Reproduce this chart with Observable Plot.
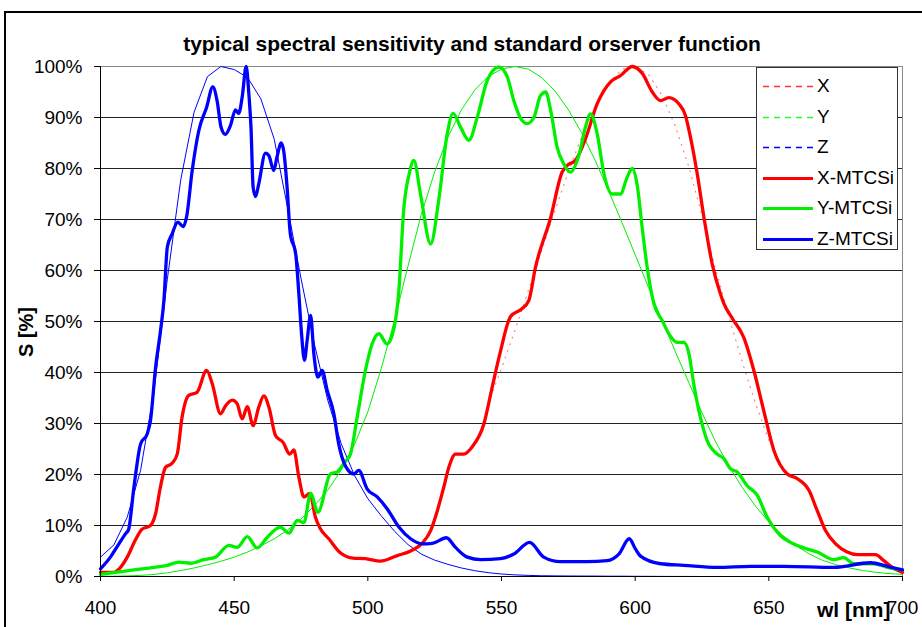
<!DOCTYPE html>
<html><head><meta charset="utf-8">
<script src="https://cdn.jsdelivr.net/npm/d3@7"></script>
<script src="https://cdn.jsdelivr.net/npm/@observablehq/plot@0.6"></script>
<style>
body{margin:0;background:#fff;overflow:hidden;width:922px;height:627px;font-family:"Liberation Sans",Arial,sans-serif;position:relative}
#frame{position:absolute;left:4px;top:11px;width:1000px;height:1000px;border:2px solid #000;box-sizing:border-box}
#chart{position:absolute;left:0;top:0}
#legend{position:absolute;left:756px;top:67px;width:142px;height:183px;border:1px solid #333;background:#fff;box-sizing:border-box}
.item{position:absolute;left:0;height:20px;width:140px}
.item svg{position:absolute;left:5px;top:0}
.item span{position:absolute;left:60px;top:0;font-size:19px;line-height:20px;color:#000}
.txt{position:absolute;white-space:nowrap;color:#000;font-weight:bold;line-height:1}
</style></head><body>
<div id="frame"></div>
<div id="chart"></div>
<div id="legend"></div>
<div class="txt" id="title" style="left:472px;top:33px;font-size:21px;transform:translateX(-50%)">typical spectral sensitivity and standard orserver function</div>
<div class="txt" id="ylab" style="left:26px;top:332px;font-size:20px;transform:translate(-50%,-50%) rotate(-90deg)">S [%]</div>
<div class="txt" id="xlab" style="left:817px;top:599px;font-size:21px">wl [nm]</div>
<script>
// ---- data ----
const xTicks = [400, 450, 500, 550, 600, 650, 700];
const yTicks = [0, 10, 20, 30, 40, 50, 60, 70, 80, 90, 100];
const seriesNames = ["X", "Y", "Z", "X-MTCSi", "Y-MTCSi", "Z-MTCSi"];

// standard observer (5 nm steps), normalised to 100 %
const stdWl = [400,405,410,415,420,425,430,435,440,445,450,455,460,465,470,475,480,485,490,495,500,505,510,515,520,525,530,535,540,545,550,555,560,565,570,575,580,585,590,595,600,605,610,615,620,625,630,635,640,645,650,655,660,665,670,675,680,685,690,695,700];
const stdY = [0.04,0.06,0.12,0.22,0.4,0.73,1.16,1.68,2.3,2.98,3.8,4.8,6.0,7.39,9.1,11.26,13.9,16.93,20.8,25.86,32.3,40.73,50.3,60.82,71.0,79.32,86.2,91.49,95.4,98.03,99.5,100,99.5,97.86,95.2,91.54,87.0,81.63,75.7,69.49,63.1,56.68,50.3,44.12,38.1,32.1,26.5,21.7,17.5,13.82,10.7,8.16,6.1,4.46,3.2,2.32,1.7,1.19,0.82,0.57,0.41];
const stdZ = [3.81,6.18,11.63,20.83,36.22,58.29,77.73,91.04,98.01,100,99.41,97.84,93.64,85.72,72.23,58.45,45.6,34.57,26.1,19.82,15.26,11.91,8.87,6.27,4.39,3.21,2.37,1.67,1.14,0.75,0.49,0.32,0.22,0.15,0.12,0.1,0.09,0.08,0.06,0.06,0.04,0.03,0.02,0.01,0.01,0,0,0,0,0,0,0,0,0,0,0,0,0,0,0,0];
// X standard: only the faintly visible part of the curve (545–650 nm)
const stdXWl = [545,550,555,560,565,570,575,580,585,590,595,600,605,610,615,620,625,630,635,640,645,650];
const stdX = [33.86,40.81,48.21,55.97,63.87,71.75,79.32,86.26,92.13,96.62,99.48,100,98.44,94.39,88.34,80.44,70.74,60.48,51.02,42.17,33.97,26.69];

// measured MTCSi sensitivities
const xmWl = [400,405,407,410,413,415.6,418.7,420.6,422.4,424.3,426.8,428.7,430.5,433,436.1,439.7,441.8,444.9,446.8,449.3,451.1,453,454.9,457.1,459.2,461.1,463,465.5,468.3,470.8,472.3,474.2,476.1,478.3,480.4,482.3,485.4,489.8,494.5,499,504.7,511,516,520.3,523.5,526,528.4,530.3,532.8,535.9,539,543.4,546.5,549.4,553.4,557.4,560.2,562.7,568.4,572.7,574.6,577.7,581.4,585.8,590.8,594.5,598.9,602.6,606.4,609.5,612.6,616.3,618.8,620.7,623.2,625.7,628.8,631.9,633.2,636.6,640.6,644.4,648.1,651.9,656.9,660.6,665,668.1,671.2,675,679.3,683.1,689.9,693,696.2,700];
const xmVal = [0.8,0.8,1.5,3.8,7.1,9.3,10,12.3,17.5,21.4,22.2,24,31.2,35.5,36.1,40.4,37.8,31.9,33.5,34.6,33.9,30.9,33.3,29.6,33.2,35.4,33.2,27.6,26.3,24,24.8,19.5,15.6,16.3,11.6,9.3,7.4,4.6,3.6,3.5,3.0,4.1,5.0,6.5,9,12.9,17.5,21.4,24,24,25.4,29.9,37.1,43.7,51,52.4,54.1,60.6,70.4,79.3,80.6,81.6,85.8,92.7,97,98.2,100,98.7,95,93.3,93.9,92.7,90.4,86.1,79,70.5,61.3,55.4,53.5,50.4,46.9,40.4,32.5,24.7,20.1,19.2,16.9,12.9,9,6.4,4.8,4.3,4.3,3.1,1.8,0.8];

const ymWl = [400,405.6,412.5,420,425,429.3,433.7,438.6,443,448,451.1,454.9,458.6,462.4,467.3,470.5,473.6,476.1,478.6,481.3,486,488.5,491.5,493.5,496,499.1,501.6,504.1,507.2,509.7,511.6,513.4,515.5,517.2,519.7,523.5,526.5,529.7,531.9,534.7,537.8,540.9,544.7,549,552.2,554.6,557.7,559.6,562.1,564.6,566.5,568.4,570.8,573.3,575.8,578.9,581.4,583.3,585.8,588.3,591.4,594.5,597,598.9,600.8,602.6,604.5,607,610.1,612.6,615.7,618.2,620.1,621.9,624.4,626.9,630.7,633.2,635.7,638.2,641.9,645.7,649.4,654.4,658.1,663.1,668.1,674.3,678,681.8,689.3,694.3,700];
const ymVal = [0.4,0.8,1.3,1.8,2.2,2.8,2.6,3.3,3.8,6.1,5.7,7.8,5.6,7.7,9.7,8.5,11,10.6,16.3,12.6,20.1,20.5,22.5,24,31.2,40.4,45.6,47.6,45.6,48.5,56,71.8,79,81.6,75,65.2,73.7,86.8,90.8,88.1,85.5,90,97.3,99.9,97.9,93.3,89.4,88.8,90,94.3,95,91.4,84.2,80.9,79.3,82.5,88.1,90.7,86.8,79,75,75,78.3,80,76.6,68.5,60.6,53.5,50.2,47.6,45.9,45.9,43.7,37.8,31.2,26.7,24,23.1,21.1,20.5,17.8,15.9,11.6,8,6.7,5.6,4.8,3.3,3.7,2.5,2.5,1.8,1.3];

const zmWl = [400,403.7,407,409.4,410.5,412.5,415,417.5,418.7,420.6,422.4,423.7,425,426.8,428.9,430.9,432.2,434.3,436.8,439.7,442,443.6,445.1,446.7,448.6,450.5,451.7,453,454.5,455.5,456.3,457.1,458,459.2,461.7,463,464.8,466,467.6,468.6,469.8,471,473,474.2,475.2,476.3,477.3,478.6,479.8,481.3,482.9,484.8,487.3,489.1,491.7,494.8,496.6,499.7,503.5,507.2,511.6,516,520.3,524.1,529.4,532.8,537.2,542.2,549.6,554.6,560.5,565.8,572,582,589.5,593.9,597.8,600.1,602,609.5,618.2,630.7,643.2,655.6,674.3,688,694.3,700];
const zmVal = [1.5,3.8,6.5,8.4,9.2,17.5,26,28,30.6,41,48,54,64.6,67.2,69.5,68.6,70.5,79.6,87.5,92,96,93.3,88.1,86.7,88.4,91.5,90.8,94,100,94.6,88,76.3,74.5,77,83,82.5,79.6,82.2,85,83.2,76.3,67.2,63.3,55.4,47.6,42.4,46.3,51.2,43.7,39.1,40.4,36.5,31.9,26,21.6,20.1,20.8,17.2,15.6,13.3,9.7,7.4,6.4,6.5,7.6,5.7,3.8,3.3,3.5,4.4,6.7,3.8,2.9,2.9,3.1,4.4,7.4,5.4,4,2.5,2.2,1.8,2,2,1.8,2.7,2,1.3];

// ---- build tables ----
const tbl = (wl, v) => wl.map((w, i) => ({wl: w, v: v[i]}));
const X = tbl(stdXWl, stdX), Y = tbl(stdWl, stdY), Z = tbl(stdWl, stdZ);
const XM = tbl(xmWl, xmVal), YM = tbl(ymWl, ymVal), ZM = tbl(zmWl, zmVal);

const red = "#ff0000", green = "#00f000", blue = "#0000ff";
const font = "Liberation Sans, Arial, sans-serif";

const chart = Plot.plot({
  width: 922, height: 627,
  marginLeft: 100, marginRight: 20, marginTop: 66, marginBottom: 51,
  style: {fontFamily: font, color: "#000", background: "transparent", overflow: "visible"},
  x: {domain: [400, 700], label: null},
  y: {domain: [0, 100], label: null},
  marks: [
    Plot.ruleY(yTicks.filter(d => d > 0 && d < 100), {stroke: "#222", strokeWidth: 1}),
    Plot.ruleY([100], {stroke: "#888", strokeWidth: 1}),
    Plot.ruleX([700], {stroke: "#888", strokeWidth: 1}),
    Plot.line(X, {x: "wl", y: "v", stroke: "#ff5050", strokeWidth: 1.2, strokeDasharray: "1,6", strokeOpacity: 0.75}),
    Plot.line(Y, {x: "wl", y: "v", stroke: green, strokeWidth: 1}),
    Plot.line(Z, {x: "wl", y: "v", stroke: blue, strokeWidth: 1}),
    Plot.line(XM, {x: "wl", y: "v", stroke: red, strokeWidth: 3.3, curve: "monotone-x"}),
    Plot.line(YM, {x: "wl", y: "v", stroke: green, strokeWidth: 3.3, curve: "monotone-x"}),
    Plot.line(ZM, {x: "wl", y: "v", stroke: blue, strokeWidth: 3.3, curve: "monotone-x"}),
    Plot.ruleX([400], {stroke: "#000", strokeWidth: 1}),
    Plot.ruleY([0], {stroke: "#000", strokeWidth: 1}),
    Plot.axisX({ticks: xTicks, tickSize: 5, tickPadding: 19, fontSize: 19, tickFormat: d => String(d), label: null, stroke: "#000"}),
    Plot.axisY({ticks: yTicks, tickSize: 6, tickPadding: 12, fontSize: 19, tickFormat: d => d + "%", label: null, stroke: "#000"})
  ]
});
document.getElementById("chart").appendChild(chart);

// ---- legend ----
const legendStyles = [
  {c: "#ff3030", w: 1.5, dash: "6,5"},
  {c: "#20ff20", w: 1.5, dash: "6,5"},
  {c: "#0000ff", w: 1.5, dash: "6,5"},
  {c: red, w: 3, dash: null},
  {c: green, w: 3, dash: null},
  {c: blue, w: 3, dash: null}
];
const leg = document.getElementById("legend");
seriesNames.forEach((name, i) => {
  const s = legendStyles[i];
  const div = document.createElement("div");
  div.className = "item";
  div.style.top = (8 + i * 30.5) + "px";
  div.innerHTML = `<svg width="52" height="20"><line x1="1" x2="51" y1="10.5" y2="10.5" stroke="${s.c}" stroke-width="${s.w}" ${s.dash ? `stroke-dasharray="${s.dash}"` : ""}/></svg><span>${name}</span>`;
  leg.appendChild(div);
});
</script>
</body></html>
